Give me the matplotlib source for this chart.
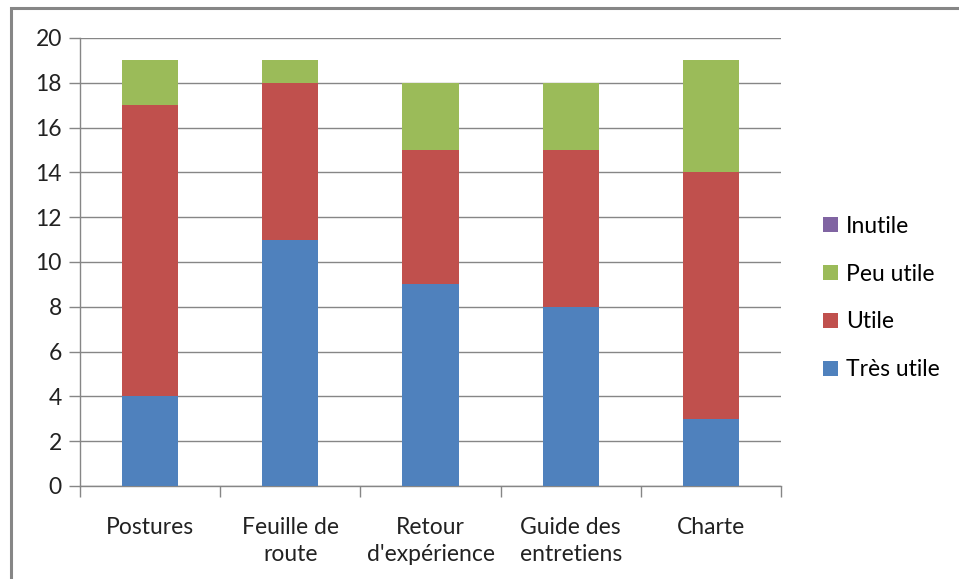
import matplotlib
matplotlib.use("Agg")
import matplotlib.pyplot as plt
from matplotlib.patches import Rectangle, Patch
import numpy as np

categories = ["Postures", "Feuille de\nroute", "Retour\nd'expérience", "Guide des\nentretiens", "Charte"]
tres_utile = [4, 11, 9, 8, 3]
utile = [13, 7, 6, 7, 11]
peu_utile = [2, 1, 3, 3, 5]
inutile = [0, 0, 0, 0, 0]
series_names = ["Très utile", "Utile", "Peu utile", "Inutile"]
colors = ["#4F81BD", "#C0504D", "#9BBB59", "#8064A2"]
yticks = [0, 2, 4, 6, 8, 10, 12, 14, 16, 18, 20]

plt.rcParams['font.family'] = ['Lato', 'DejaVu Sans']
FS = 16.5

W, H = 959, 579
fig = plt.figure(figsize=(W/100, H/100), dpi=100)
fig.patches.append(Rectangle((11/W, -0.1), 1.2, 1 - 8/H + 0.1, transform=fig.transFigure,
                             fill=False, edgecolor="#868686", linewidth=2.2))

ax = fig.add_axes([80/W, (H-486)/H, (781-80)/W, (486-38)/H])
x = np.arange(len(categories))
bottom = np.zeros(len(categories))
data = [tres_utile, utile, peu_utile, inutile]
for vals, name, c in zip(data, series_names, colors):
    ax.bar(x, vals, width=0.4, bottom=bottom, color=c, label=name, zorder=3)
    bottom = bottom + np.array(vals)

ax.set_xlim(-0.5, len(categories) - 0.5)
ax.set_ylim(0, 20)
ax.set_yticks(yticks)
ax.set_yticklabels([str(v) for v in yticks])
ax.yaxis.grid(True, color="#868686", linewidth=1.0, zorder=0)
ax.set_axisbelow(True)
for s in ["top", "right"]:
    ax.spines[s].set_visible(False)
for s in ["left", "bottom"]:
    ax.spines[s].set_color("#868686")
    ax.spines[s].set_linewidth(1.0)

ax.set_xticks(x)
ax.set_xticklabels(categories, fontsize=FS, linespacing=1.35, color="#222222")
ax.tick_params(axis="x", length=0, pad=22)
ax.set_xticks(np.arange(-0.5, len(categories)), minor=True)
ax.tick_params(axis="x", which="minor", length=8, color="#868686", width=1.0)
ax.tick_params(axis="y", length=8, color="#868686", width=1.0, labelsize=FS, labelcolor="#222222", pad=5)

handles = [Patch(facecolor=c, label=n) for n, c in zip(series_names, colors)][::-1]
fig.legend(handles=handles, loc="center left", bbox_to_anchor=(814/W, 1 - 298/H),
           frameon=False, fontsize=FS, handlelength=0.65, handleheight=0.65,
           handletextpad=0.35, labelspacing=1.17, borderaxespad=0)

fig.savefig("out.png", dpi=100)
